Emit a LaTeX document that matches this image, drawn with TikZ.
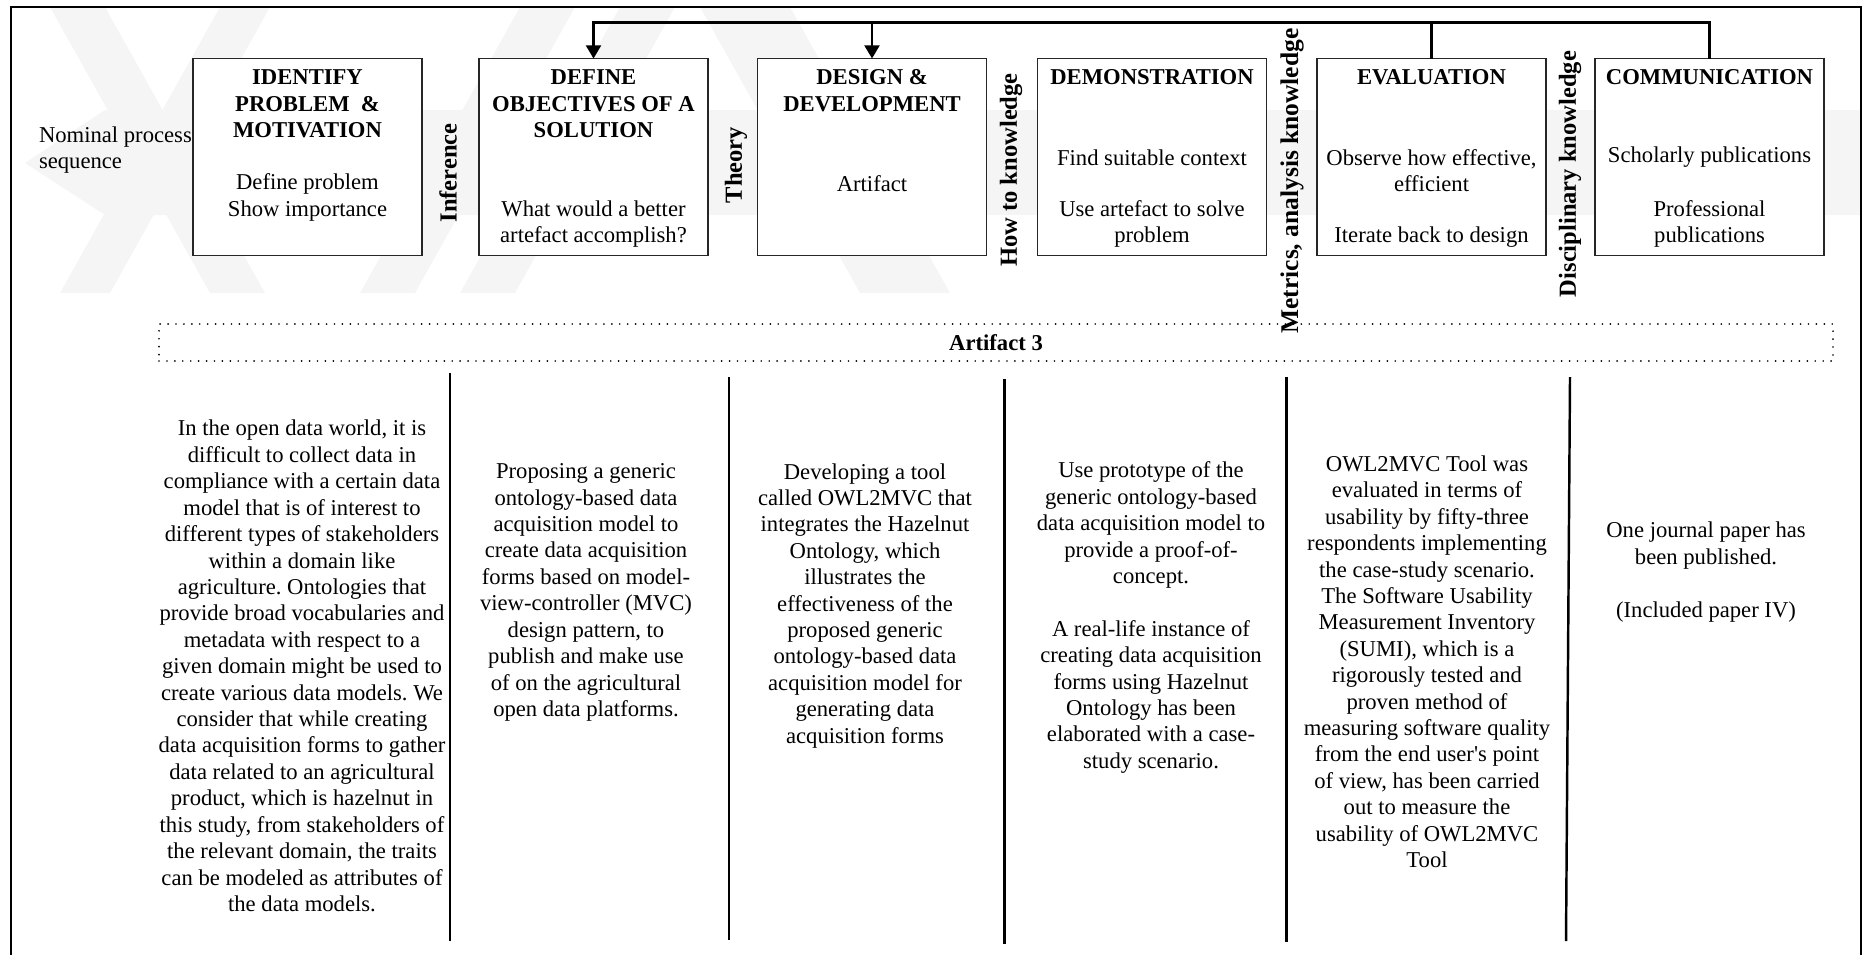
\documentclass[tikz,border=0pt]{standalone}
\usepackage{fontspec}
\setmainfont{Liberation Serif}
\usetikzlibrary{arrows.meta}
\frenchspacing
\begin{document}
\begin{tikzpicture}[x=0.53pt,y=-0.53pt,
  every node/.style={inner sep=0pt, outer sep=0pt},
  txt/.style={font=\fontsize{12pt}{14pt}\selectfont, align=center},
  ttl/.style={font=\fontsize{12pt}{14pt}\selectfont\bfseries, align=center},
  sidelbl/.style={font=\fontsize{13pt}{15pt}\selectfont\bfseries, rotate=90},
  stepbox/.style={draw=black!85, fill=white, line width=0.6pt, minimum width=121.4pt, minimum height=104.4pt},
  link/.style={line width=1.1pt},
  flow/.style={link, -{Triangle[length=7pt,width=8pt]}},
  sep/.style={line width=1.3pt},
  dotbox/.style={draw, line width=1pt, dash pattern=on 0pt off 4.2pt, line cap=round,
                 minimum width=887.2pt, minimum height=19.6pt},
  shade/.style={fill=black!4, draw=none},
]
\useasboundingbox (0,0) rectangle (1865,955);

% faint background emblem
\fill[shade] (25,163) -- (105,110) -- (1861,110) -- (1861,215) -- (105,215) -- cycle;
\fill[shade] (50,7) -- (105,7) -- (265,293) -- (210,293) -- cycle;
\fill[shade] (220,7) -- (270,7) -- (110,293) -- (60,293) -- cycle;
\fill[shade] (520,7) -- (575,7) -- (415,293) -- (360,293) -- cycle;
\fill[shade] (620,7) -- (675,7) -- (515,293) -- (460,293) -- cycle;
\fill[shade] (700,7) -- (790,7) -- (950,293) -- (860,293) -- cycle;

% outer frame, open at the bottom
\draw[line width=1.1pt] (11,955) -- (11,7) -- (1861,7) -- (1861,955);

% process steps
\node[stepbox] (b1) at (307.5,157) {};
\node[stepbox] (b2) at (593.5,157) {};
\node[stepbox] (b3) at (872,157) {};
\node[stepbox] (b4) at (1152,157) {};
\node[stepbox] (b5) at (1431.5,157) {};
\node[stepbox] (b6) at (1709.5,157) {};

% step titles and contents
\node[ttl] (t1) at (307.5,104) {IDENTIFY\\PROBLEM \ \&\\MOTIVATION};
\node[txt] (d1) at (307.5,197.3) {Define problem\\Show importance};

\node[ttl] (t2) at (593.5,104) {DEFINE\\OBJECTIVES OF A\\SOLUTION};
\node[txt] (d2) at (593.5,224) {What would a better\\artefact accomplish?};

\node[ttl] (t3) at (872,90.7) {DESIGN \&\\DEVELOPMENT};
\node[txt] (d3) at (872,184) {Artifact};

\node[ttl] (t4) at (1152,77.3) {DEMONSTRATION};
\node[txt] (d4a) at (1152,157.3) {Find suitable context};
\node[txt] (d4b) at (1152,224) {Use artefact to solve\\problem};

\node[ttl] (t5) at (1431.5,77.3) {EVALUATION};
\node[txt] (d5a) at (1431.5,170.7) {Observe how effective,\\efficient};
\node[txt] (d5b) at (1431.5,237.3) {Iterate back to design};

\node[ttl] (t6) at (1709.5,77.3) {COMMUNICATION};
\node[txt] (d6a) at (1709.5,157.3) {Scholarly publications};
\node[txt] (d6b) at (1709.5,224) {Professional\\publications};

% nominal sequence label
\node[txt, align=left, anchor=west] (nps) at (39,150) {Nominal process\\sequence};

% knowledge labels between the steps
\node[sidelbl] (k1) at (448,173) {Inference};
\node[sidelbl] (k2) at (736,165) {Theory};
\node[sidelbl] (k3) at (1011,170) {How to knowledge};
\node[sidelbl, font=\fontsize{13.5pt}{15pt}\selectfont\bfseries] (k4) at (1292,181) {Metrics, analysis knowledge};
\node[sidelbl] (k5) at (1570,174) {Disciplinary knowledge};

% iteration paths back to earlier steps
\coordinate (bus) at (0,22.5);
\draw[flow] (b6.north) |- (b2.north |- bus) -- (b2.north);
\draw[flow] (b3.north |- bus) -- (b3.north);
\draw[link] (b5.north) -- (b5.north |- bus);

% artifact banner
\node[dotbox, font=\fontsize{12pt}{14pt}\selectfont\bfseries] (art) at (996,342.5) {Artifact 3};

% column separators
\coordinate (s1t) at (450,373);   \coordinate (s1b) at (450,941);
\coordinate (s2t) at (729,377);   \coordinate (s2b) at (729,940);
\coordinate (s3t) at (1004.5,379);\coordinate (s3b) at (1004.5,944);
\coordinate (s4t) at (1286.5,377);\coordinate (s4b) at (1286.5,942);
\coordinate (s5t) at (1570,377);  \coordinate (s5b) at (1566,941);
\draw[sep] (s1t) -- (s1b);
\draw[sep] (s2t) -- (s2b);
\draw[sep] (s3t) -- (s3b);
\draw[sep] (s4t) -- (s4b);
\draw[sep] (s5t) -- (s5b);

% column contents
\node[txt] (c1) at (302,666) {In the open data world, it is\\difficult to collect data in\\compliance with a certain data\\model that is of interest to\\different types of stakeholders\\within a domain like\\agriculture. Ontologies that\\provide broad vocabularies and\\metadata with respect to a\\given domain might be used to\\create various data models. We\\consider that while creating\\data acquisition forms to gather\\data related to an agricultural\\product, which is hazelnut in\\this study, from stakeholders of\\the relevant domain, the traits\\can be modeled as attributes of\\the data models.};

\node[txt] (c2) at (586,592.5) {Proposing a generic\\ontology-based data\\acquisition model to\\create data acquisition\\forms based on model-\\view-controller (MVC)\\design pattern, to\\publish and make use\\of on the agricultural\\open data platforms.};

\node[txt] (c3) at (865,605.7) {Developing a tool\\called OWL2MVC that\\integrates the Hazelnut\\Ontology, which\\illustrates the\\effectiveness of the\\proposed generic\\ontology-based data\\acquisition model for\\generating data\\acquisition forms};

\node[txt] (c4) at (1151,617.5) {Use prototype of the\\generic ontology-based\\data acquisition model to\\provide a proof-of-\\concept.\\[14pt]A real-life instance of\\creating data acquisition\\forms using Hazelnut\\Ontology has been\\elaborated with a case-\\study scenario.};

\node[txt] (c5) at (1427,661.7) {OWL2MVC Tool was\\evaluated in terms of\\usability by fifty-three\\respondents implementing\\the case-study scenario.\\The Software Usability\\Measurement Inventory\\(SUMI), which is a\\rigorously tested and\\proven method of\\measuring software quality\\from the end user\textquotesingle s point\\of view, has been carried\\out to measure the\\usability of OWL2MVC\\Tool};

\node[txt] (c6) at (1706,572) {One journal paper has\\been published.\\[14pt](Included paper IV)};
\end{tikzpicture}
\end{document}
